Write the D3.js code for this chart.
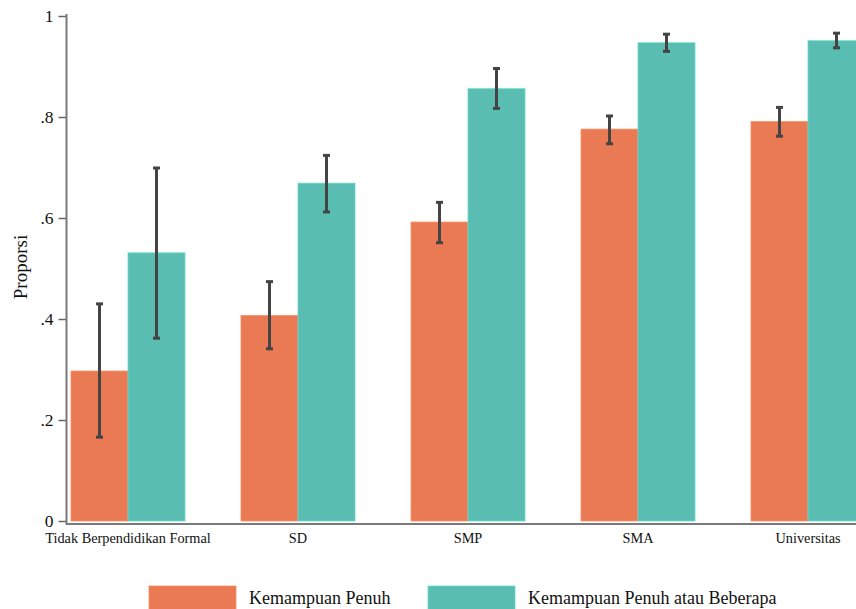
<!DOCTYPE html>
<html>
<head>
<meta charset="utf-8">
<script src="https://cdn.jsdelivr.net/npm/d3@7"></script>
<style>
  html, body { margin: 0; padding: 0; background: #fff; }
  svg { display: block; }
  text { font-family: "Liberation Serif", "Times New Roman", serif; fill: #111; }
</style>
</head>
<body>
<svg id="chart" width="856" height="609"></svg>
<script>
const categories = ["Tidak Berpendidikan Formal", "SD", "SMP", "SMA", "Universitas"];
const seriesNames = ["Kemampuan Penuh", "Kemampuan Penuh atau Beberapa"];
const fullValues = [0.297, 0.407, 0.592, 0.776, 0.791];
const fullLow    = [0.166, 0.341, 0.551, 0.747, 0.762];
const fullHigh   = [0.430, 0.474, 0.631, 0.802, 0.819];
const someValues = [0.531, 0.669, 0.856, 0.947, 0.951];
const someLow    = [0.362, 0.612, 0.817, 0.930, 0.937];
const someHigh   = [0.699, 0.724, 0.896, 0.964, 0.966];
const yTicks = [0, 0.2, 0.4, 0.6, 0.8, 1];
const yTickLabels = ["0", ".2", ".4", ".6", ".8", "1"];
const colors = ["#E97A54", "#5ABDB2"];

const series = [
  { name: seriesNames[0], values: fullValues, low: fullLow, high: fullHigh, color: colors[0] },
  { name: seriesNames[1], values: someValues, low: someLow, high: someHigh, color: colors[1] }
];

const svg = d3.select("#chart");
const y = d3.scaleLinear().domain([0, 1]).range([521, 16]);
const x0 = d3.scaleBand().domain(categories).range([43, 893]).paddingInner(0.3294).paddingOuter(0.1647);
const x1 = d3.scaleBand().domain([0, 1]).range([0, x0.bandwidth()]);

// Bars
series.forEach((s, si) => {
  const g = svg.append("g");
  g.selectAll("rect").data(categories).join("rect")
    .attr("x", (c) => x0(c) + x1(si))
    .attr("y", (c, i) => y(s.values[i]))
    .attr("width", x1.bandwidth())
    .attr("height", (c, i) => y(0) - y(s.values[i]))
    .attr("fill", s.color)
    .attr("stroke", d3.color(s.color).brighter(0.4))
    .attr("stroke-width", 0.8);
});

// Error bars
series.forEach((s, si) => {
  const g = svg.append("g").attr("stroke", "#444").attr("stroke-width", 3);
  categories.forEach((c, i) => {
    const cx = x0(c) + x1(si) + x1.bandwidth() / 2;
    g.append("line").attr("x1", cx).attr("x2", cx).attr("y1", y(s.low[i])).attr("y2", y(s.high[i]));
    [s.low[i], s.high[i]].forEach(v => {
      g.append("line").attr("x1", cx - 3.5).attr("x2", cx + 3.5).attr("y1", y(v)).attr("y2", y(v));
    });
  });
});

// Y axis
const yAxis = d3.axisLeft(y).tickValues(yTicks).tickFormat((d, i) => yTickLabels[i]).tickSize(8).tickPadding(5);
const yg = svg.append("g").attr("transform", "translate(66.5,0)").call(yAxis);
yg.select(".domain").remove();
yg.append("line").attr("x1", 0).attr("x2", 0).attr("y1", 14).attr("y2", 525)
  .attr("stroke", "#7a7a7a").attr("stroke-width", 2);
yg.selectAll(".tick line").attr("stroke", "#666").attr("stroke-width", 1.5);
yg.selectAll(".tick text").attr("font-family", "Liberation Serif").attr("font-size", 17.5).attr("fill", "#111");

// X axis line
svg.append("line").attr("x1", 66).attr("x2", 856).attr("y1", 524).attr("y2", 524)
  .attr("stroke", "#7a7a7a").attr("stroke-width", 2);

// X labels
const xAxis = d3.axisBottom(x0).tickSize(0).tickPadding(0);
const xg = svg.append("g").attr("transform", "translate(0,531)").call(xAxis);
xg.select(".domain").remove();
xg.selectAll(".tick text").attr("font-family", "Liberation Serif").attr("font-size", 14.3).attr("fill", "#111").attr("dy", "0.85em");

// Y label
svg.append("text").attr("transform", "translate(27,267) rotate(-90)")
  .attr("text-anchor", "middle").attr("font-size", 19).text("Proporsi");

// Legend
const legendX = [149, 428];
series.forEach((s, si) => {
  svg.append("rect").attr("x", legendX[si]).attr("y", 586).attr("width", 87).attr("height", 30)
    .attr("fill", s.color).attr("stroke", d3.color(s.color).brighter(0.4)).attr("stroke-width", 0.8);
  svg.append("text").attr("x", legendX[si] + 100).attr("y", 604).attr("font-size", 18).text(s.name);
});
</script>
</body>
</html>
